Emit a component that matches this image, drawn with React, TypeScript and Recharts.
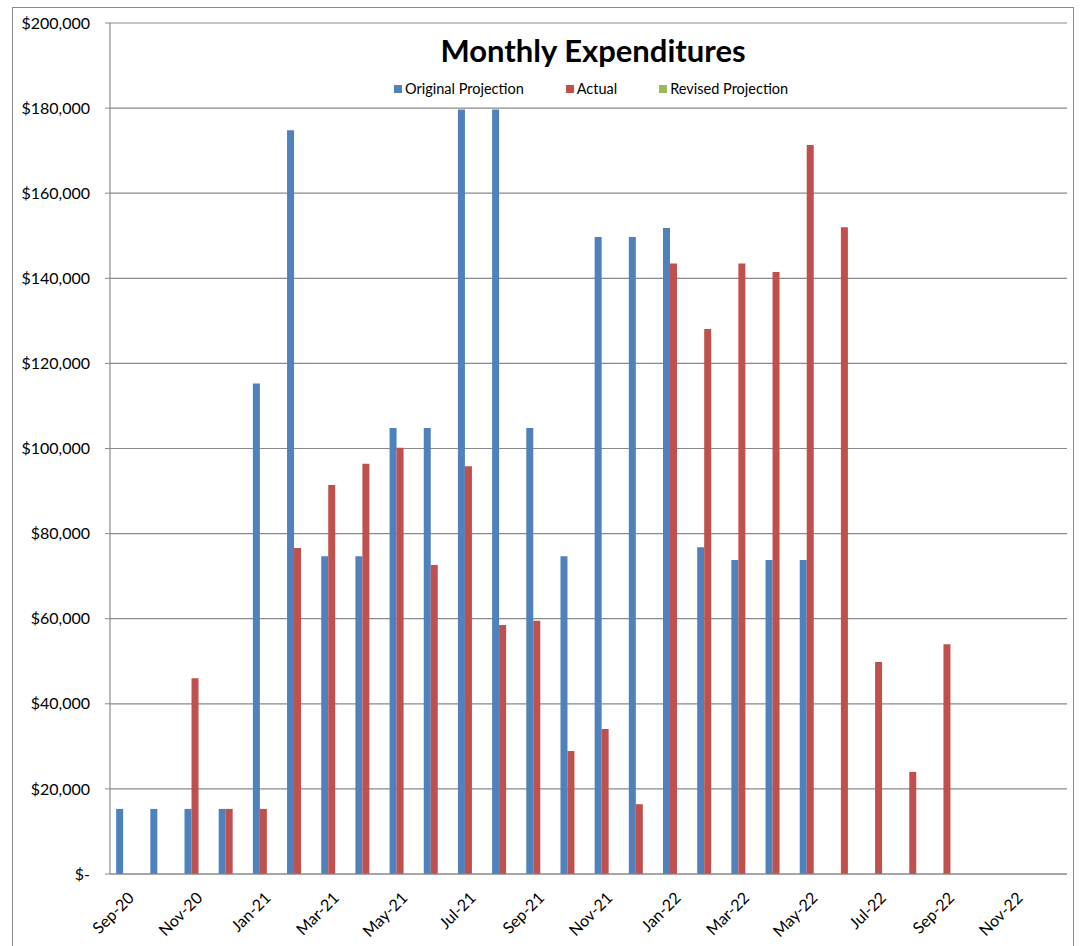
import { BarChart, Bar, XAxis, YAxis, CartesianGrid, Legend } from "recharts";

// months shown on the category axis
const months = [
  "Sep-20", "Oct-20", "Nov-20", "Dec-20", "Jan-21", "Feb-21", "Mar-21",
  "Apr-21", "May-21", "Jun-21", "Jul-21", "Aug-21", "Sep-21", "Oct-21",
  "Nov-21", "Dec-21", "Jan-22", "Feb-22", "Mar-22", "Apr-22", "May-22",
  "Jun-22", "Jul-22", "Aug-22", "Sep-22", "Oct-22", "Nov-22", "Dec-22",
];

const originalProjection = [
  15300, 15300, 15300, 15300, 115300, 174800, 74700,
  74700, 104800, 104800, 179700, 179700, 104800, 74700,
  149700, 149700, 151800, 76800, 73800, 73800, 73800,
  null, null, null, null, null, null, null,
];

const actual = [
  null, null, 46000, 15300, 15300, 76600, 91400,
  96400, 100200, 72600, 95800, 58500, 59500, 28900,
  34100, 16400, 143500, 128100, 143500, 141500, 171300,
  152000, 49800, 24000, 54000, null, null, null,
];

const revisedProjection = months.map(() => null);

const yTicks = [0, 20000, 40000, 60000, 80000, 100000, 120000, 140000, 160000, 180000, 200000];
// category boundaries that carry a tick mark
const boundaryTicks = [0, 2, 4, 6, 8, 10, 12, 14, 16, 18, 20, 22, 24, 26, 28];

const series = [
  { key: "Original Projection", color: "#4F81BD" },
  { key: "Actual", color: "#C0504D" },
  { key: "Revised Projection", color: "#9BBB59" },
];

const data = months.map((m, i) => ({
  month: m,
  "Original Projection": originalProjection[i],
  Actual: actual[i],
  "Revised Projection": revisedProjection[i],
}));

const FONT = "Lato, 'Open Sans', sans-serif";
const GRID = "#8a8a8a";

const money = (v: number) => (v === 0 ? "$-" : "$" + v.toLocaleString("en-US"));

const MonthTick = (props: any) => {
  const { x, y, payload } = props;
  const ax = x + 8;
  const ay = y + 17;
  return (
    <text
      x={ax}
      y={ay}
      transform={`rotate(-45 ${ax} ${ay})`}
      textAnchor="end"
      fontSize={16}
      fontFamily={FONT}
      fill="#000"
    >
      {payload.value}
    </text>
  );
};

const LegendBox = () => (
  <div
    style={{
      display: "flex",
      fontFamily: FONT,
      fontSize: 14.5,
      color: "#000",
      lineHeight: "16px",
    }}
  >
    {series.map((s, i) => (
      <div
        key={s.key}
        style={{ display: "flex", alignItems: "center", marginRight: i < 2 ? 42 : 0 }}
      >
        <span
          style={{ width: 8, height: 8, background: s.color, display: "inline-block", marginRight: 3 }}
        />
        {s.key}
      </div>
    ))}
  </div>
);

export default function App() {
  return (
    <div
      style={{
        position: "absolute",
        left: 0,
        top: 0,
        width: 1080,
        height: 946,
        overflow: "hidden",
        background: "#fff",
      }}
    >
      <div
        style={{
          position: "absolute",
          left: 12,
          top: 7,
          width: 1062,
          height: 960,
          border: "1px solid #8c8c8c",
          boxSizing: "border-box",
        }}
      />
      <div
        style={{
          position: "absolute",
          left: 0,
          top: 31,
          width: 1186,
          textAlign: "center",
          fontFamily: FONT,
          fontWeight: 700,
          fontSize: 31,
          color: "#000",
        }}
      >
        Monthly Expenditures
      </div>
      <div style={{ position: "absolute", left: 0, top: 0 }}>
        <BarChart
          width={1080}
          height={946}
          data={data}
          margin={{ top: 23, right: 13, left: 10, bottom: 12 }}
          barCategoryGap="18%"
          barGap={0}
        >
          <CartesianGrid
            vertical={false}
            stroke={GRID}
            strokeWidth={1.2}
            xAxisId="grid"
          />
          <XAxis
            xAxisId="grid"
            type="number"
            domain={[0, 28]}
            allowDataOverflow
            ticks={boundaryTicks}
            height={0}
            axisLine={false}
            tick={false}
            tickSize={6}
            tickLine={{ stroke: GRID, strokeWidth: 1.2 }}
          />
          <XAxis
            xAxisId="cat"
            dataKey="month"
            interval={1}
            height={60}
            tickLine={false}
            axisLine={{ stroke: GRID, strokeWidth: 1.2 }}
            tick={<MonthTick />}
          />
          <YAxis
            domain={[0, 200000]}
            ticks={yTicks}
            width={100}
            tickFormatter={money}
            tickSize={5}
            tickMargin={15}
            tickLine={{ stroke: GRID }}
            axisLine={{ stroke: GRID, strokeWidth: 1.2 }}
            tick={{ fontSize: 16, fontFamily: FONT, fill: "#000" }}
          />
          <Legend
            layout="horizontal"
            verticalAlign="middle"
            align="center"
            content={<LegendBox />}
            wrapperStyle={{ top: 81, left: 394, width: "auto" }}
          />
          {series.map((s) => (
            <Bar
              key={s.key}
              xAxisId="cat"
              dataKey={s.key}
              fill={s.color}
              isAnimationActive={false}
            />
          ))}
        </BarChart>
      </div>
    </div>
  );
}
